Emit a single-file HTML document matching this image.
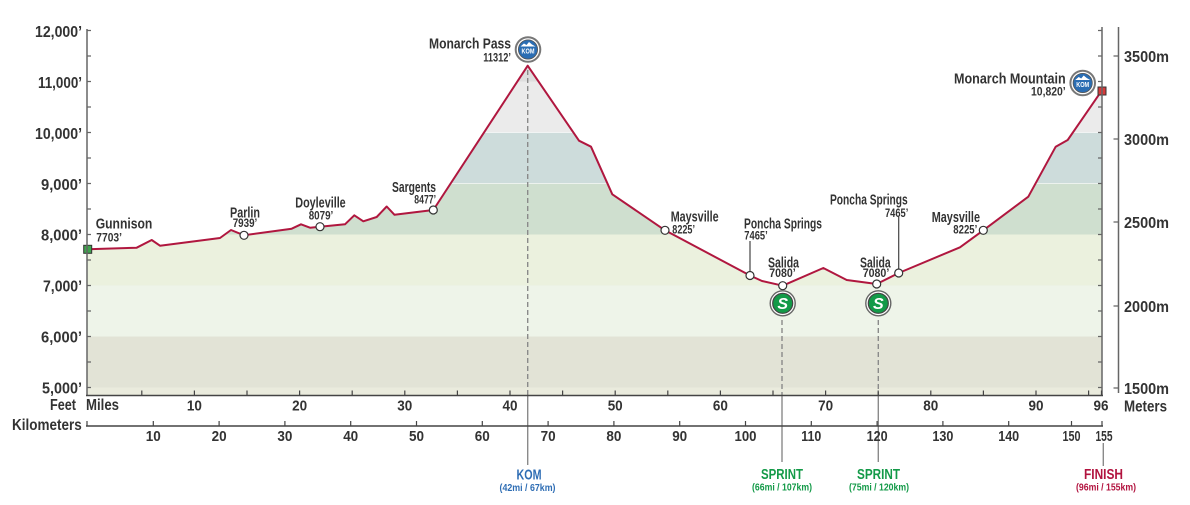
<!DOCTYPE html>
<html><head><meta charset="utf-8"><style>
html,body{margin:0;padding:0;background:#fff;}
svg{display:block;}
text{font-family:"Liberation Sans Narrow","Liberation Sans",sans-serif;font-weight:bold;fill:#333;}
</style></head><body>
<svg width="1190" height="505" viewBox="0 0 1190 505" xmlns="http://www.w3.org/2000/svg">
<defs>
<clipPath id="prof"><polygon points="87.7,249.3 136.7,247.7 151.7,240 160,245.7 220,238 231,230 244,235.3 291.7,228.7 301,224.3 310,227.7 320,226.7 345,224.3 354.3,215.3 363.3,221.3 376.7,217 386.7,206.5 394.5,214.8 433.3,210 527.7,65.7 579,140.7 591,146.7 612.3,194.3 665,230.3 750,275.5 762,281 782.7,285.7 823.3,268 846.7,280 876.7,284 898.7,273 960,247.3 983.3,230.3 1028.3,196.7 1055.7,146.7 1067.7,140 1101.7,90.7 1102,395.5 87,395.5"/></clipPath>
</defs>
<g clip-path="url(#prof)">
<rect x="87" y="20" width="1016" height="62" fill="#dedede"/>
<rect x="87" y="81.5" width="1016" height="51" fill="#ebebeb"/>
<rect x="87" y="132.5" width="1016" height="51" fill="#cddcdb"/>
<rect x="87" y="183.5" width="1016" height="51" fill="#cfdfcf"/>
<rect x="87" y="234.5" width="1016" height="51" fill="#ebf1de"/>
<rect x="87" y="285.5" width="1016" height="51" fill="#eef4e9"/>
<rect x="87" y="336.5" width="1016" height="51" fill="#e2e3d6"/>
<rect x="87" y="387.5" width="1016" height="9" fill="#eaebdd"/>
<g stroke="#ffffff" stroke-opacity="0.6" stroke-width="1">
<line x1="87" y1="132.5" x2="1102" y2="132.5"/><line x1="87" y1="183.5" x2="1102" y2="183.5"/>
</g>
</g>
<!-- dashed marker lines -->
<g stroke="#8a8a8a" stroke-width="1.4" fill="none">
<line x1="527.7" y1="70" x2="527.7" y2="395" stroke-dasharray="5,3"/>
<line x1="527.7" y1="395" x2="527.7" y2="465"/>
<line x1="782" y1="320" x2="782" y2="395" stroke-dasharray="5,3"/>
<line x1="782" y1="395" x2="782" y2="462"/>
<line x1="878.3" y1="320" x2="878.3" y2="395" stroke-dasharray="5,3"/>
<line x1="878.3" y1="395" x2="878.3" y2="462"/>
<line x1="1103.3" y1="443" x2="1103.3" y2="466"/>
</g>
<!-- profile line -->
<polyline fill="none" stroke="#b0173f" stroke-width="2" stroke-linejoin="round" points="87.7,249.3 136.7,247.7 151.7,240 160,245.7 220,238 231,230 244,235.3 291.7,228.7 301,224.3 310,227.7 320,226.7 345,224.3 354.3,215.3 363.3,221.3 376.7,217 386.7,206.5 394.5,214.8 433.3,210 527.7,65.7 579,140.7 591,146.7 612.3,194.3 665,230.3 750,275.5 762,281 782.7,285.7 823.3,268 846.7,280 876.7,284 898.7,273 960,247.3 983.3,230.3 1028.3,196.7 1055.7,146.7 1067.7,140 1101.7,90.7"/>
<!-- leader lines -->
<g stroke="#444" stroke-width="1.2">
<line x1="750" y1="241" x2="750" y2="272"/>
<line x1="898.7" y1="217" x2="898.7" y2="269"/>
</g>
<!-- dots -->
<g fill="#fff" stroke="#333" stroke-width="1.2">
<circle cx="244" cy="235.3" r="4"/><circle cx="320" cy="226.7" r="4"/><circle cx="433.3" cy="210" r="4"/>
<circle cx="665" cy="230.3" r="4"/><circle cx="750" cy="275.5" r="4"/><circle cx="782.7" cy="285.7" r="4"/>
<circle cx="876.7" cy="284" r="4"/><circle cx="898.7" cy="273" r="4"/><circle cx="983.3" cy="230.3" r="4"/>
</g>
<rect x="83.7" y="245.3" width="8" height="8" fill="#3fa34d" stroke="#333" stroke-width="1"/>
<rect x="1098" y="87" width="8" height="8" fill="#d63a3a" stroke="#333" stroke-width="1"/>
<!-- axes -->
<g stroke="#666" stroke-width="1.5" fill="none">
<line x1="87" y1="29" x2="87" y2="396"/>
<line x1="1102" y1="27" x2="1102" y2="396"/>
<line x1="1118.5" y1="27" x2="1118.5" y2="393"/>
</g>
<g stroke="#666" stroke-width="1.2">
<path d="M87 30.5h4M87 56h4M87 81.5h4M87 107h4M87 132.5h4M87 158h4M87 183.5h4M87 209h4M87 234.5h4M87 260h4M87 285.5h4M87 311h4M87 336.5h4M87 362h4M87 387.5h4"/>
<path d="M1102 30.5h-4M1102 56h-4M1102 81.5h-4M1102 107h-4M1102 132.5h-4M1102 158h-4M1102 183.5h-4M1102 209h-4M1102 234.5h-4M1102 260h-4M1102 285.5h-4M1102 311h-4M1102 336.5h-4M1102 362h-4M1102 387.5h-4"/>
<path d="M1118.5 56h-5M1118.5 139h-5M1118.5 222h-5M1118.5 306h-5M1118.5 388h-5"/>
</g>
<g stroke="#444" stroke-width="1.6">
<line x1="86" y1="395.5" x2="1103" y2="395.5"/>
<line x1="86" y1="426" x2="1103" y2="426"/>
</g>
<g stroke="#444" stroke-width="1.2">
<path d="M141.8 395v-4.5M194.4 395v-4.5M247 395v-4.5M299.6 395v-4.5M352.2 395v-4.5M404.8 395v-4.5M457.4 395v-4.5M510 395v-4.5M562.6 395v-4.5M615.2 395v-4.5M667.8 395v-4.5M720.4 395v-4.5M773 395v-4.5M825.6 395v-4.5M878.2 395v-4.5M930.8 395v-4.5M983.4 395v-4.5M1036 395v-4.5M1088.6 395v-4.5M1101.5 395v-4.5"/>
<path d="M87 426v-5M153.3 426v-5M219.1 426v-5M284.9 426v-5M350.7 426v-5M416.5 426v-5M482.3 426v-5M548.1 426v-5M613.9 426v-5M679.7 426v-5M745.5 426v-5M811.3 426v-5M877.1 426v-5M942.9 426v-5M1008.7 426v-5M1071.5 426v-5M1102 426v-5"/>
</g>
<!-- y labels -->
<g font-size="16" text-anchor="end">
<text x="82" y="36.8" textLength="47" lengthAdjust="spacingAndGlyphs">12,000’</text>
<text x="82" y="87.8" textLength="44" lengthAdjust="spacingAndGlyphs">11,000’</text>
<text x="82" y="138.8" textLength="47" lengthAdjust="spacingAndGlyphs">10,000’</text>
<text x="82" y="189.8" textLength="41" lengthAdjust="spacingAndGlyphs">9,000’</text>
<text x="82" y="240.3" textLength="41" lengthAdjust="spacingAndGlyphs">8,000’</text>
<text x="82" y="291.3" textLength="39" lengthAdjust="spacingAndGlyphs">7,000’</text>
<text x="82" y="342.3" textLength="41" lengthAdjust="spacingAndGlyphs">6,000’</text>
<text x="82" y="393.3" textLength="40" lengthAdjust="spacingAndGlyphs">5,000’</text>
</g>
<g font-size="16">
<text x="1124" y="61.8" textLength="45" lengthAdjust="spacingAndGlyphs">3500m</text>
<text x="1124" y="144.8" textLength="45" lengthAdjust="spacingAndGlyphs">3000m</text>
<text x="1124" y="227.8" textLength="45" lengthAdjust="spacingAndGlyphs">2500m</text>
<text x="1124" y="311.8" textLength="45" lengthAdjust="spacingAndGlyphs">2000m</text>
<text x="1124" y="393.8" textLength="45" lengthAdjust="spacingAndGlyphs">1500m</text>
<text x="1124" y="411.5" textLength="43" lengthAdjust="spacingAndGlyphs">Meters</text>
<text x="50" y="410" textLength="26" lengthAdjust="spacingAndGlyphs">Feet</text>
<text x="86" y="410" textLength="33" lengthAdjust="spacingAndGlyphs">Miles</text>
<text x="12" y="430" textLength="69.7" lengthAdjust="spacingAndGlyphs">Kilometers</text>
</g>
<!-- miles labels -->
<g font-size="15" text-anchor="middle">
<text x="194.4" y="410.5" textLength="15" lengthAdjust="spacingAndGlyphs">10</text>
<text x="299.6" y="410.5" textLength="15" lengthAdjust="spacingAndGlyphs">20</text>
<text x="404.8" y="410.5" textLength="15" lengthAdjust="spacingAndGlyphs">30</text>
<text x="510" y="410.5" textLength="15" lengthAdjust="spacingAndGlyphs">40</text>
<text x="615.2" y="410.5" textLength="15" lengthAdjust="spacingAndGlyphs">50</text>
<text x="720.4" y="410.5" textLength="15" lengthAdjust="spacingAndGlyphs">60</text>
<text x="825.6" y="410.5" textLength="15" lengthAdjust="spacingAndGlyphs">70</text>
<text x="930.8" y="410.5" textLength="15" lengthAdjust="spacingAndGlyphs">80</text>
<text x="1036" y="410.5" textLength="15" lengthAdjust="spacingAndGlyphs">90</text>
<text x="1101" y="410.5" textLength="15" lengthAdjust="spacingAndGlyphs">96</text>
</g>
<!-- km labels -->
<g font-size="15" text-anchor="middle">
<text x="153.3" y="441" textLength="15" lengthAdjust="spacingAndGlyphs">10</text>
<text x="219.1" y="441" textLength="15" lengthAdjust="spacingAndGlyphs">20</text>
<text x="284.9" y="441" textLength="15" lengthAdjust="spacingAndGlyphs">30</text>
<text x="350.7" y="441" textLength="15" lengthAdjust="spacingAndGlyphs">40</text>
<text x="416.5" y="441" textLength="15" lengthAdjust="spacingAndGlyphs">50</text>
<text x="482.3" y="441" textLength="15" lengthAdjust="spacingAndGlyphs">60</text>
<text x="548.1" y="441" textLength="15" lengthAdjust="spacingAndGlyphs">70</text>
<text x="613.9" y="441" textLength="15" lengthAdjust="spacingAndGlyphs">80</text>
<text x="679.7" y="441" textLength="15" lengthAdjust="spacingAndGlyphs">90</text>
<text x="745.5" y="441" textLength="22" lengthAdjust="spacingAndGlyphs">100</text>
<text x="811.3" y="441" textLength="20" lengthAdjust="spacingAndGlyphs">110</text>
<text x="877.1" y="441" textLength="21" lengthAdjust="spacingAndGlyphs">120</text>
<text x="942.9" y="441" textLength="21" lengthAdjust="spacingAndGlyphs">130</text>
<text x="1008.7" y="441" textLength="21" lengthAdjust="spacingAndGlyphs">140</text>
<text x="1071.5" y="441" textLength="18" lengthAdjust="spacingAndGlyphs">150</text>
<text x="1104" y="441" textLength="17" lengthAdjust="spacingAndGlyphs">155</text>
</g>
<!-- town names -->
<g font-size="15">
<text x="95.7" y="228.4" textLength="56.6" lengthAdjust="spacingAndGlyphs">Gunnison</text>
<text x="230" y="217.4" textLength="30" lengthAdjust="spacingAndGlyphs">Parlin</text>
<text x="295.3" y="207.4" textLength="50.4" lengthAdjust="spacingAndGlyphs">Doyleville</text>
<text x="392" y="192" textLength="44" lengthAdjust="spacingAndGlyphs">Sargents</text>
<text x="429" y="48.4" textLength="82" lengthAdjust="spacingAndGlyphs">Monarch Pass</text>
<text x="670.7" y="221.4" textLength="48" lengthAdjust="spacingAndGlyphs">Maysville</text>
<text x="744" y="228.7" textLength="78" lengthAdjust="spacingAndGlyphs">Poncha Springs</text>
<text x="768" y="267.4" textLength="31" lengthAdjust="spacingAndGlyphs">Salida</text>
<text x="830" y="204.7" textLength="77.7" lengthAdjust="spacingAndGlyphs">Poncha Springs</text>
<text x="860" y="267.4" textLength="30.7" lengthAdjust="spacingAndGlyphs">Salida</text>
<text x="931.7" y="222" textLength="48.3" lengthAdjust="spacingAndGlyphs">Maysville</text>
<text x="954" y="83.7" textLength="111.7" lengthAdjust="spacingAndGlyphs">Monarch Mountain</text>
</g>
<g font-size="12">
<text x="96.3" y="241.3" textLength="25.7" lengthAdjust="spacingAndGlyphs">7703’</text>
<text x="232.7" y="227" textLength="24.6" lengthAdjust="spacingAndGlyphs">7939’</text>
<text x="308.7" y="219.3" textLength="24.6" lengthAdjust="spacingAndGlyphs">8079’</text>
<text x="414.3" y="203.3" textLength="21.7" lengthAdjust="spacingAndGlyphs">8477’</text>
<text x="483.3" y="61.6" textLength="27.7" lengthAdjust="spacingAndGlyphs">11312’</text>
<text x="672.3" y="233.6" textLength="22.7" lengthAdjust="spacingAndGlyphs">8225’</text>
<text x="744.3" y="239.3" textLength="23.4" lengthAdjust="spacingAndGlyphs">7465’</text>
<text x="769.3" y="277" textLength="26.4" lengthAdjust="spacingAndGlyphs">7080’</text>
<text x="885" y="217" textLength="23.3" lengthAdjust="spacingAndGlyphs">7465’</text>
<text x="862.7" y="277" textLength="26.6" lengthAdjust="spacingAndGlyphs">7080’</text>
<text x="953.3" y="233.6" textLength="24" lengthAdjust="spacingAndGlyphs">8225’</text>
<text x="1031" y="95.3" textLength="34.7" lengthAdjust="spacingAndGlyphs">10,820’</text>
</g>
<!-- KOM icons -->
<g transform="translate(528,49.5)">
<circle r="12.3" fill="#fff" stroke="#777" stroke-width="2"/>
<circle r="9.6" fill="#2a6db3" stroke="#555" stroke-width="0.8"/>
<path d="M-7.5,-3 L-4,-6 L-1.5,-4.5 L1,-7.5 L4,-5 L7.5,-3 Z" fill="#fff"/>
<text x="0" y="4.2" font-size="7.5" text-anchor="middle" style="fill:#fff" textLength="13" lengthAdjust="spacingAndGlyphs">KOM</text>
</g>
<g transform="translate(1082.7,83)">
<circle r="12.3" fill="#fff" stroke="#777" stroke-width="2"/>
<circle r="9.6" fill="#2a6db3" stroke="#555" stroke-width="0.8"/>
<path d="M-7.5,-3 L-4,-6 L-1.5,-4.5 L1,-7.5 L4,-5 L7.5,-3 Z" fill="#fff"/>
<text x="0" y="4.2" font-size="7.5" text-anchor="middle" style="fill:#fff" textLength="13" lengthAdjust="spacingAndGlyphs">KOM</text>
</g>
<!-- sprint icons -->
<g transform="translate(782.7,303.3)">
<circle r="12.5" fill="#fff" stroke="#666" stroke-width="1.4"/>
<circle r="10" fill="#139a48" stroke="#444" stroke-width="1.2"/>
<text x="0" y="5.5" font-size="16" text-anchor="middle" style="fill:#fff;font-style:italic">S</text>
</g>
<g transform="translate(878.3,303.3)">
<circle r="12.5" fill="#fff" stroke="#666" stroke-width="1.4"/>
<circle r="10" fill="#139a48" stroke="#444" stroke-width="1.2"/>
<text x="0" y="5.5" font-size="16" text-anchor="middle" style="fill:#fff;font-style:italic">S</text>
</g>
<!-- bottom markers -->
<g text-anchor="middle">
<text x="529" y="479.7" font-size="15" style="fill:#2e6db4" textLength="25" lengthAdjust="spacingAndGlyphs">KOM</text>
<text x="527.5" y="490.9" font-size="10" style="fill:#2e6db4" textLength="56" lengthAdjust="spacingAndGlyphs">(42mi / 67km)</text>
<text x="782" y="479" font-size="15" style="fill:#139a48" textLength="42" lengthAdjust="spacingAndGlyphs">SPRINT</text>
<text x="782" y="490.5" font-size="10" style="fill:#139a48" textLength="60" lengthAdjust="spacingAndGlyphs">(66mi / 107km)</text>
<text x="878.5" y="479" font-size="15" style="fill:#139a48" textLength="43" lengthAdjust="spacingAndGlyphs">SPRINT</text>
<text x="879" y="490.5" font-size="10" style="fill:#139a48" textLength="60" lengthAdjust="spacingAndGlyphs">(75mi / 120km)</text>
<text x="1103.5" y="479" font-size="15" style="fill:#b2133f" textLength="39" lengthAdjust="spacingAndGlyphs">FINISH</text>
<text x="1106" y="490.5" font-size="10" style="fill:#b2133f" textLength="60" lengthAdjust="spacingAndGlyphs">(96mi / 155km)</text>
</g>
</svg>
</body></html>
